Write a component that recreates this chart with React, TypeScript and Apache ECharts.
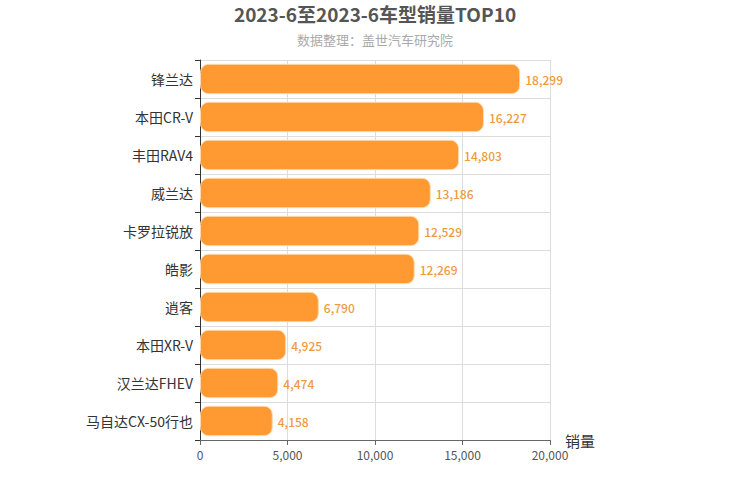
import React, { useEffect, useRef } from "react";
import * as echarts from "echarts";

const categories = ["锋兰达", "本田CR-V", "丰田RAV4", "威兰达", "卡罗拉锐放", "皓影", "逍客", "本田XR-V", "汉兰达FHEV", "马自达CX-50行也"];
const sales = [18299, 16227, 14803, 13186, 12529, 12269, 6790, 4925, 4474, 4158];
const xTicks = { min: 0, max: 20000, interval: 5000 };
const titleText = "2023-6至2023-6车型销量TOP10";
const subText = "数据整理：盖世汽车研究院";
const axisName = "销量";

const FONT = "'Noto Sans CJK SC', 'Noto Sans', sans-serif";

export default function App() {
  const ref = useRef<HTMLDivElement>(null);
  useEffect(() => {
    if (!ref.current) return;
    const chart = echarts.init(ref.current, undefined, { renderer: "svg" });
    chart.setOption({
      animation: false,
      textStyle: { fontFamily: FONT },
      title: {
        text: titleText,
        subtext: subText,
        left: "center",
        top: 3,
        padding: [0, 5],
        itemGap: 9,
        textStyle: { fontSize: 19, lineHeight: 21, fontWeight: "bold", color: "#555", fontFamily: FONT },
        subtextStyle: { fontSize: 13, color: "#aaa", fontFamily: FONT },
      },
      grid: { left: 200, right: 200, top: 60, bottom: 60, containLabel: false },
      xAxis: {
        type: "value",
        min: xTicks.min,
        max: xTicks.max,
        interval: xTicks.interval,
        name: axisName,
        nameLocation: "end",
        nameGap: 15,
        nameTextStyle: { fontSize: 15, color: "#333", fontFamily: FONT },
        axisLine: { show: true, lineStyle: { color: "#666" } },
        axisTick: { show: true, lineStyle: { color: "#666" } },
        axisLabel: {
          color: "#555",
          fontSize: 12,
          fontFamily: FONT,
          formatter: (v: number) => v.toLocaleString("en-US"),
        },
        splitLine: { show: true, lineStyle: { color: "#ddd" } },
      },
      yAxis: {
        type: "category",
        data: categories,
        inverse: true,
        axisLine: { show: true, lineStyle: { color: "#333" } },
        axisTick: { show: true, lineStyle: { color: "#333" } },
        axisLabel: { color: "#333", fontSize: 14, fontFamily: FONT, margin: 7 },
        splitLine: { show: true, lineStyle: { color: "#ddd" } },
      },
      series: [
        {
          type: "bar",
          data: sales,
          barWidth: "80%",
          itemStyle: {
            color: "#FF9A33",
            borderRadius: 8,
            borderColor: "#FFD9B0",
            borderWidth: 1,
          },
          label: {
            show: true,
            position: "right",
            distance: 5,
            color: "#EE9A3E",
            fontSize: 12,
            fontWeight: 500,
            fontFamily: FONT,
            formatter: (p: any) => Number(p.value).toLocaleString("en-US"),
          },
        },
      ],
    });
    return () => chart.dispose();
  }, []);
  return <div ref={ref} style={{ position: "absolute", left: 0, top: 0, width: 750, height: 500 }} />;
}
